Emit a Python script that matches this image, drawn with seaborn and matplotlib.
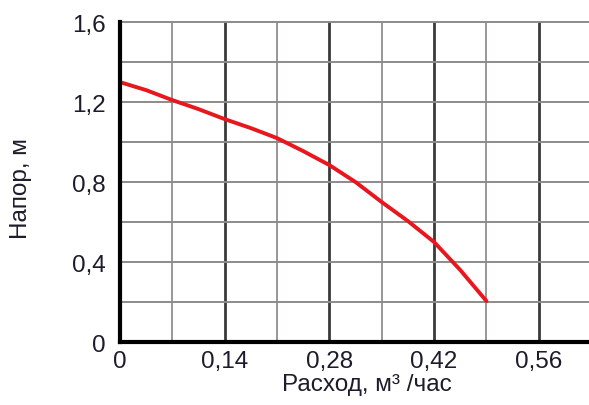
import matplotlib
matplotlib.use("Agg")
import matplotlib.pyplot as plt
import seaborn as sns
import pandas as pd
import numpy as np

# --- Data ---
flow = [0.0, 0.035, 0.07, 0.105, 0.14, 0.175, 0.21, 0.245, 0.28, 0.315, 0.35, 0.385, 0.42, 0.455, 0.49]
head = [1.30, 1.26, 1.21, 1.165, 1.115, 1.07, 1.02, 0.955, 0.885, 0.80, 0.70, 0.605, 0.50, 0.36, 0.205]
x_major = [0, 0.14, 0.28, 0.42, 0.56]
x_labels = ["0", "0,14", "0,28", "0,42", "0,56"]
y_major = [0, 0.4, 0.8, 1.2, 1.6]
y_labels = ["0", "0,4", "0,8", "1,2", "1,6"]

df = pd.DataFrame({"flow": flow, "head": head})

sns.set_style("white")
plt.rcParams["font.family"] = ["Liberation Sans", "DejaVu Sans"]
TXT = "#1c1c2a"
FS = 17.5

fig = plt.figure(figsize=(5.89, 4.06), dpi=100)
ax = fig.add_axes([0.2037, 0.155, 0.8, 0.788])

ax.set_xlim(0, 0.63)
ax.set_ylim(0, 1.6)

# grid: dark lines every 0.14, light lines in between, horizontal every 0.2
for xv in np.arange(0.07, 0.64, 0.07):
    dark = round(xv / 0.07) % 2 == 0
    ax.axvline(xv, color="#3a3a3a" if dark else "#9a9696",
               lw=2.0 if dark else 1.4, zorder=1)
for yv in np.arange(0.2, 1.61, 0.2):
    ax.axhline(yv, color="#8f8a8a", lw=1.4, zorder=1, clip_on=False)

sns.lineplot(data=df, x="flow", y="head", ax=ax, color="#e8171d", lw=2.8,
             zorder=3, clip_on=False)

for s in ["top", "right"]:
    ax.spines[s].set_visible(False)
for s in ["left", "bottom"]:
    ax.spines[s].set_color("black")
    ax.spines[s].set_linewidth(3.0)
    ax.spines[s].set_zorder(4)

ax.set_xticks(x_major)
ax.set_xticklabels(x_labels)
ax.set_yticks(y_major)
ax.set_yticklabels(y_labels)
ax.tick_params(axis="both", length=0, labelsize=FS, labelcolor=TXT)
ax.tick_params(axis="y", pad=10)
ax.tick_params(axis="x", pad=6)

ax.set_xlabel("Расход, м³ /час", fontsize=FS, color=TXT)
ax.xaxis.set_label_coords(0.524, -0.098)
ax.set_ylabel("Напор, м", fontsize=FS, color=TXT)
ax.yaxis.set_label_coords(-0.187, 0.484)

fig.savefig("out.png", dpi=100)
